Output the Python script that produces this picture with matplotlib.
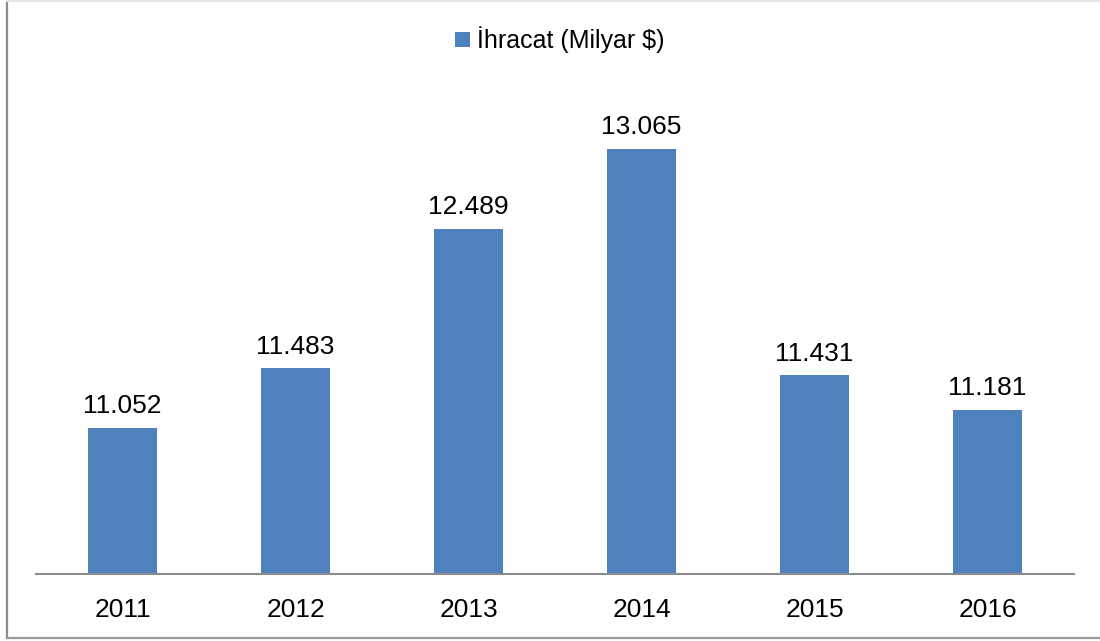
import matplotlib
matplotlib.use("Agg")
import matplotlib.pyplot as plt
from matplotlib.lines import Line2D

plt.rcParams['font.family'] = ['Liberation Sans', 'DejaVu Sans']

years = ['2011', '2012', '2013', '2014', '2015', '2016']
values = [11.052, 11.483, 12.489, 13.065, 11.431, 11.181]
labels = ['11.052', '11.483', '12.489', '13.065', '11.431', '11.181']
series_name = 'İhracat (Milyar $)'

bar_color = '#4F81BD'

fig = plt.figure(figsize=(11, 6.41), dpi=100)
# outer chart border: left and bottom gray, top very light, no right edge
W, H = 1100, 641
fig.lines.append(Line2D([7 / W, 7 / W], [1 - 1 / H, 1 - 638 / H], transform=fig.transFigure,
                        color='#8c8c8c', linewidth=1.6))
fig.lines.append(Line2D([7 / W, 1], [1 - 638 / H, 1 - 638 / H], transform=fig.transFigure,
                        color='#9a9a9a', linewidth=1.6))
fig.lines.append(Line2D([7 / W, 1], [1 - 0.8 / H, 1 - 0.8 / H], transform=fig.transFigure,
                        color='#e6e6e6', linewidth=1.6))

ax = fig.add_axes([36 / W, (H - 574) / H, 1038 / W, (574 - 19) / H])
x = range(len(years))
bars = ax.bar(x, values, width=0.4, color=bar_color, label=series_name, zorder=2)
ax.set_ylim(10, 14)
ax.set_xlim(-0.5, len(years) - 0.5)

for xi, v, lab in zip(x, values, labels):
    ax.text(xi, v + 0.07, lab, ha='center', va='bottom', fontsize=19)

ax.set_xticks(list(x))
ax.set_xticklabels(years, fontsize=19)
ax.tick_params(axis='x', length=0, pad=17)
ax.set_yticks([])
for s in ['top', 'right', 'left']:
    ax.spines[s].set_visible(False)
ax.spines['bottom'].set_color('#8c8c8c')
ax.spines['bottom'].set_linewidth(1.5)

fig.legend(handles=[bars], labels=[series_name], loc='center',
           bbox_to_anchor=(560 / W, 1 - 40 / H), frameon=False,
           fontsize=18, handlelength=0.6, handleheight=0.6, handletextpad=0.3)

fig.savefig('out.png', dpi=100)
